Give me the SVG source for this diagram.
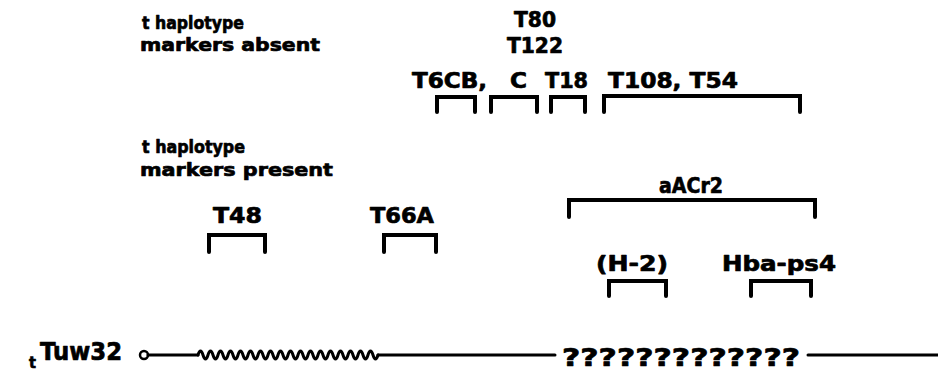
<svg xmlns="http://www.w3.org/2000/svg" width="938" height="384" viewBox="0 0 938 384">
  <style>
    text { font-family: "DejaVu Sans", "Liberation Sans", sans-serif; font-weight: bold; fill: #000; stroke: #000; stroke-width: 0.7; stroke-linejoin: round; }
    .hdr { font-size: 18px; }
    .lbl { font-size: 21px; }
    .br { fill: none; stroke: #000; stroke-width: 4; stroke-linecap: round; stroke-linejoin: miter; }
    .chrom { fill: none; stroke: #000; stroke-width: 3; stroke-linecap: round; }
  </style>
  <rect width="938" height="384" fill="#fff"/>

  <!-- group headings -->
  <g id="heading-absent">
    <text class="hdr" x="142" y="29" textLength="102" lengthAdjust="spacingAndGlyphs">t haplotype</text>
    <text class="hdr" x="140" y="51" textLength="180" lengthAdjust="spacingAndGlyphs">markers  absent</text>
  </g>
  <g id="heading-present">
    <text class="hdr" x="142" y="153" textLength="103" lengthAdjust="spacingAndGlyphs">t haplotype</text>
    <text class="hdr" x="140" y="176" textLength="193" lengthAdjust="spacingAndGlyphs">markers  present</text>
  </g>

  <!-- markers absent -->
  <g id="T6CB">
    <text class="lbl" x="535" y="27" text-anchor="middle" textLength="42" lengthAdjust="spacingAndGlyphs">T80</text>
    <text class="lbl" x="535" y="53" text-anchor="middle" textLength="56" lengthAdjust="spacingAndGlyphs">T122</text>
    <text class="lbl" x="412" y="88" textLength="75" lengthAdjust="spacingAndGlyphs">T6CB,</text>
    <path class="br" d="M437 112 V97 H475 V112"/>
  </g>
  <g id="C">
    <text class="lbl" x="510" y="88" textLength="17" lengthAdjust="spacingAndGlyphs">C</text>
    <path class="br" d="M491 112 V97 H537 V112"/>
  </g>
  <g id="T18">
    <text class="lbl" x="545" y="88" textLength="43" lengthAdjust="spacingAndGlyphs">T18</text>
    <path class="br" d="M551 112 V97 H585 V112"/>
  </g>
  <g id="T108-T54">
    <text class="lbl" x="608" y="88" textLength="130" lengthAdjust="spacingAndGlyphs">T108, T54</text>
    <path class="br" d="M604 112 V96 H800 V112"/>
  </g>

  <!-- markers present -->
  <g id="aACr2">
    <text class="lbl" x="659" y="193" textLength="64" lengthAdjust="spacingAndGlyphs">aACr2</text>
    <path class="br" d="M569 217 V200 H815 V217"/>
  </g>
  <g id="T48">
    <text class="lbl" x="213" y="223" textLength="49" lengthAdjust="spacingAndGlyphs">T48</text>
    <path class="br" d="M209 252 V235 H265 V252"/>
  </g>
  <g id="T66A">
    <text class="lbl" x="370" y="223" textLength="64" lengthAdjust="spacingAndGlyphs">T66A</text>
    <path class="br" d="M384 252 V235 H436 V252"/>
  </g>
  <g id="H-2">
    <text class="lbl" x="596" y="271" textLength="72" lengthAdjust="spacingAndGlyphs">(H-2)</text>
    <path class="br" d="M609 296 V281 H666 V296"/>
  </g>
  <g id="Hba-ps4">
    <text class="lbl" x="722" y="271" textLength="114" lengthAdjust="spacingAndGlyphs">Hba-ps4</text>
    <path class="br" d="M751 296 V281 H811 V296"/>
  </g>

  <!-- chromosome -->
  <g id="chromosome-label">
    <text x="29" y="368" font-size="15" textLength="7" lengthAdjust="spacingAndGlyphs">t</text>
    <text x="40" y="360" font-size="24" textLength="82" lengthAdjust="spacingAndGlyphs">Tuw32</text>
  </g>
  <g id="connectors">
    <circle cx="144" cy="355" r="4" fill="none" stroke="#000" stroke-width="2.5"/>
    <path class="chrom" d="M148 355 H198"/>
    <path class="chrom" stroke-width="2.5" d="M198 355 q2.5 -8 5 0 t5 0 t5 0 t5 0 t5 0 t5 0 t5 0 t5 0 t5 0 t5 0 t5 0 t5 0 t5 0 t5 0 t5 0 t5 0 t5 0 t5 0 t5 0 t5 0 t5 0 t5 0 t5 0 t5 0 t5 0 t5 0 t5 0 t5 0 t5 0 t5 0 t5 0 t5 0 t5 0 t5 0 t5 0 t5 0"/>
    <path class="chrom" d="M378 355 H555"/>
    <text x="562" y="366" font-size="25" textLength="238" lengthAdjust="spacingAndGlyphs">?????????????</text>
    <path class="chrom" d="M808 355 H938"/>
  </g>
</svg>
